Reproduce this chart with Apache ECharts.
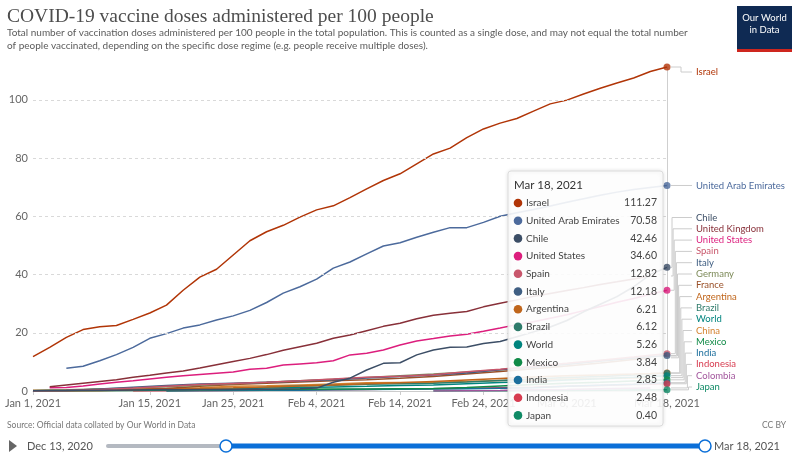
<!DOCTYPE html>
<html>
<head>
<meta charset="utf-8">
<script src="https://cdn.jsdelivr.net/npm/echarts@6/dist/echarts.min.js"></script>
<style>
html,body{margin:0;padding:0;background:#fff;}
#c{width:803px;height:460px;}
</style>
</head>
<body>
<div id="c"></div>
<script>
// ---------- DATA ----------
const startYear = 2021, dayCount = 77;           // Jan 1 .. Mar 18, 2021
const xTickDays = [0, 14, 24, 34, 44, 54, 64, 76];
const yTicks = [0, 20, 40, 60, 80, 100];
const daysFine = [0,2,4,6,8,10,12,14,16,18,20,22,24,26,28,30,32,34,36,38,40,42,44,46,48,50,52,54,56,58,60,62,64,66,68,70,72,74,76];
const daysCoarse = [0,4,8,12,16,20,24,28,32,36,40,44,48,52,56,60,64,68,72,74,76];

const israel = [11.8,15.0,18.4,21.1,22.1,22.5,24.6,26.8,29.5,34.6,39.1,41.8,46.7,51.6,54.7,56.9,59.7,62.2,63.6,66.4,69.4,72.3,74.6,78.0,81.4,83.4,87.0,90.0,92.0,93.6,96.1,98.6,99.9,102.0,104.0,105.8,107.5,109.7,111.27];
const uae = [null,null,7.8,8.5,10.4,12.5,15.0,18.1,19.7,21.6,22.7,24.4,25.8,27.7,30.4,33.6,35.8,38.4,42.2,44.3,47.1,49.8,50.9,52.8,54.5,56.1,56.1,57.9,60.0,61.2,62.3,63.5,64.8,66.0,67.2,68.3,69.2,69.9,70.58];
const chile = [0.1,0.15,0.2,0.3,0.3,0.3,0.35,0.4,0.4,0.45,0.5,0.5,0.55,0.6,0.6,0.7,0.8,1.0,3.0,4.4,7.2,9.5,9.7,12.4,14.1,15.0,15.1,16.3,17.0,18.6,20.3,22.0,24.2,27.2,29.8,32.4,35.8,40.0,42.46];
const uk = [null,1.5,2.1,2.7,3.3,3.9,4.7,5.4,6.2,6.9,7.9,9.0,10.1,11.2,12.5,14.0,15.2,16.4,18.1,19.2,20.7,22.2,23.3,24.8,26.0,26.7,27.3,28.9,30.1,31.3,32.5,33.5,34.5,35.5,36.6,37.5,38.5,39.5,null];
const us = [null,1.1,1.2,1.7,2.4,3.0,3.5,4.1,4.7,5.2,5.7,6.1,6.5,7.5,7.8,8.9,9.3,9.7,10.4,12.4,13.0,14.1,15.8,17.2,18.0,18.9,19.5,20.5,21.6,22.8,23.8,25.0,26.2,27.6,29.0,30.5,31.8,33.2,34.60];

const spain = [0.1,0.2,0.5,1.0,1.6,2.2,2.6,3.0,3.5,4.1,4.7,5.1,5.6,6.6,7.5,8.5,9.5,10.6,11.7,12.3,12.82];
const italy = [0.0,0.2,0.7,1.3,1.9,2.4,2.7,3.0,3.4,3.9,4.5,5.0,5.5,6.2,7.3,8.2,9.2,10.3,11.3,11.8,12.18];
const germany = [0.2,0.4,0.7,1.0,1.5,2.0,2.5,3.0,3.5,4.0,4.6,5.2,5.8,6.5,7.3,8.3,9.3,10.4,11.3,12.0,null];
const france = [0.0,0.01,0.1,0.4,0.9,1.6,2.2,2.7,3.1,3.5,3.9,4.4,5.0,5.8,6.7,7.6,8.6,9.6,10.8,11.4,null];
const argentina = [0.2,0.3,0.5,0.6,0.8,0.9,1.1,1.4,1.7,2.1,2.5,2.8,3.3,3.8,4.3,4.8,5.2,5.5,5.8,6.0,6.21];
const brazil = [null,null,null,null,0.0,0.3,0.8,1.3,1.7,2.0,2.3,2.5,2.7,3.1,3.6,4.1,4.6,5.0,5.5,5.8,6.12];
const world = [0.12,0.2,0.3,0.4,0.5,0.65,0.8,1.0,1.2,1.4,1.6,1.85,2.1,2.5,2.9,3.3,3.8,4.2,4.7,5.0,5.26];
const china = [0.2,0.3,0.6,0.7,0.9,1.1,1.6,1.8,2.1,2.4,2.8,2.9,3.0,3.3,3.6,3.8,4.1,4.3,4.5,4.6,null];
const mexico = [0.03,0.05,0.07,0.2,0.35,0.45,0.5,0.55,0.6,0.65,0.7,0.8,0.9,1.2,1.7,2.2,2.7,3.0,3.4,3.6,3.84];
const india = [null,null,null,null,0.0,0.1,0.2,0.25,0.3,0.4,0.5,0.6,0.65,0.8,0.95,1.1,1.6,1.95,2.3,2.6,2.85];
const indonesia = [null,null,null,0.0,0.05,0.1,0.15,0.25,0.35,0.45,0.55,0.65,0.8,0.95,1.1,1.3,1.6,1.9,2.2,2.35,2.48];
const japan = [null,null,null,null,null,null,null,null,null,null,null,null,0.01,0.05,0.1,0.15,0.2,0.25,0.32,0.36,0.40];
const colombia = [null,null,null,null,null,null,null,null,null,null,null,null,0.0,0.1,0.2,0.4,0.55,0.75,0.95,1.05,null];

const countries = [
  ['Israel', israel, daysFine],
  ['United Arab Emirates', uae, daysFine],
  ['Chile', chile, daysFine],
  ['United Kingdom', uk, daysFine],
  ['United States', us, daysFine],
  ['Spain', spain, daysCoarse],
  ['Italy', italy, daysCoarse],
  ['Germany', germany, daysCoarse],
  ['France', france, daysCoarse],
  ['Argentina', argentina, daysCoarse],
  ['Brazil', brazil, daysCoarse],
  ['World', world, daysCoarse],
  ['China', china, daysCoarse],
  ['Mexico', mexico, daysCoarse],
  ['India', india, daysCoarse],
  ['Indonesia', indonesia, daysCoarse],
  ['Colombia', colombia, daysCoarse],
  ['Japan', japan, daysCoarse]
];

// ---------- STYLES ----------
const colors = {
  'Israel':'#B13507','United Arab Emirates':'#4C6A9C','Chile':'#3C4E66','United Kingdom':'#883039',
  'United States':'#DC1E7D','Spain':'#C8566B','Italy':'#3F5E82','Germany':'#7E8B5A','France':'#9A5129',
  'Argentina':'#C0661C','Brazil':'#2F7B6B','World':'#00847E','China':'#D4822F','Mexico':'#108A47',
  'India':'#1B6E9C','Indonesia':'#D73C50','Colombia':'#A2559C','Japan':'#0F8A65'
};
const SANS = 'Lato, "Noto Sans", sans-serif';

// categories
const MONTHS = ['Jan','Feb','Mar','Apr','May','Jun','Jul','Aug','Sep','Oct','Nov','Dec'];
const dates = [];
for (let i = 0; i < dayCount; i++) {
  const d = new Date(Date.UTC(startYear, 0, 1 + i));
  dates.push(MONTHS[d.getUTCMonth()] + ' ' + d.getUTCDate() + ', ' + d.getUTCFullYear());
}
const lastIdx = dayCount - 1;

const lastPoint = (vals, days) => {
  for (let i = vals.length - 1; i >= 0; i--) if (vals[i] != null) return [days[i], vals[i]];
  return null;
};

const series = [];
// gridlines & hover line
series.push({
  type: 'line', data: [], silent: true,
  markLine: {
    silent: true, symbol: 'none', label: {show: false}, animation: false,
    data: yTicks.filter(v => v > 0).map(v => ({yAxis: v, lineStyle: {color: '#d9d9d9', type: [3, 3], width: 1}}))
      .concat([{xAxis: dates[lastIdx], lineStyle: {color: '#cfcfcf', type: 'solid', width: 1}}])
  }
});
countries.slice().reverse().forEach(([name, vals, days]) => {
  series.push({
    name, type: 'line', symbol: 'none', animation: false,
    lineStyle: {width: 1.5, color: colors[name]},
    itemStyle: {color: colors[name]},
    data: days.map((d, i) => vals[i] == null ? null : [d, vals[i]]).filter(p => p)
  });
});
// end markers for countries with a value on the last day
const endPoints = countries.filter(([n, v, d]) => lastPoint(v, d)[0] === lastIdx);
series.push({
  type: 'scatter', symbolSize: 7, animation: false, z: 5,
  data: endPoints.map(([n, v, d]) => ({value: lastPoint(v, d), itemStyle: {color: colors[n]}}))
});

const chart = echarts.init(document.getElementById('c'), null, {renderer: 'canvas'});
chart.setOption({
  animation: false,
  grid: {left: 33, right: 136, top: 67, bottom: 69},
  xAxis: {
    type: 'category', data: dates, boundaryGap: false,
    axisLine: {show: true, lineStyle: {color: '#cccccc'}},
    axisTick: {show: true, length: 4, interval: i => xTickDays.includes(i), lineStyle: {color: '#cccccc'}},
    axisLabel: {interval: i => xTickDays.includes(i), color: '#666', fontFamily: SANS, fontSize: 11, margin: 7},
    splitLine: {show: false}
  },
  yAxis: {
    type: 'value', min: 0, max: v => v.max, interval: 20,
    axisLine: {show: false}, axisTick: {show: false},
    splitLine: {show: false},
    axisLabel: {color: '#666', fontFamily: SANS, fontSize: 11, margin: 5,
      formatter: v => (yTicks.includes(v) ? String(v) : '')}
  },
  series
});

// ---------- end labels with leader lines ----------
const labelItems = countries.map(([n, v, d]) => {
  const lp = lastPoint(v, d);
  return {name: n, val: lp[1], yData: chart.convertToPixel({yAxisIndex: 0}, lp[1])};
}).sort((a, b) => b.val - a.val);
const spacing = 11.3, maxY = 387, minY = 72;
for (let i = labelItems.length - 1; i >= 0; i--) {
  const lim = i === labelItems.length - 1 ? maxY : labelItems[i + 1].y - spacing;
  labelItems[i].y = Math.min(labelItems[i].yData, lim);
}
labelItems[0].y = Math.max(labelItems[0].y, minY);
for (let i = 1; i < labelItems.length; i++) labelItems[i].y = Math.max(labelItems[i].y, labelItems[i - 1].y + spacing);

const xEnd = chart.convertToPixel({xAxisIndex: 0}, lastIdx);
const graphics = [];
let k = 0;
labelItems.forEach((it, i) => {
  const moved = Math.abs(it.y - it.yData) > 0.5;
  const bend = i < 2 ? xEnd + 14 : xEnd + 5 + (k++) * 1.1;
  const pts = moved
    ? [[xEnd + 4, it.yData], [bend, it.yData], [bend, it.y], [xEnd + 25, it.y]]
    : [[xEnd + 4, it.yData], [xEnd + 25, it.y]];
  graphics.push({type: 'polyline', silent: true, z: 1, shape: {points: pts}, style: {stroke: '#cccccc', lineWidth: 1, fill: null}});
  graphics.push({type: 'text', silent: true, z: 10, x: xEnd + 29, y: it.y,
    style: {text: it.name, fill: colors[it.name], fontFamily: SANS, fontSize: 9.5, verticalAlign: 'middle', align: 'left'}});
});

// ---------- tooltip box ----------
const tipRows = endPoints.map(([n, v, d]) => ({name: n, val: lastPoint(v, d)[1]})).sort((a, b) => b.val - a.val);
const tipX = 508, tipY = 171, tipW = 155, rowH = 17.7, TZ = 200;
graphics.push({type: 'rect', z: TZ, silent: true, shape: {x: tipX, y: tipY, width: tipW, height: 255, r: 3},
  style: {fill: 'rgba(255,255,255,0.9)', stroke: '#dcdcdc', lineWidth: 1, shadowBlur: 4, shadowColor: 'rgba(0,0,0,0.12)'}});
graphics.push({type: 'text', z: TZ + 1, silent: true, x: tipX + 6, y: tipY + 14,
  style: {text: dates[lastIdx], fill: '#333', fontFamily: SANS, fontSize: 11.5, verticalAlign: 'middle'}});
tipRows.forEach((r, i) => {
  const y = tipY + 32 + i * rowH;
  graphics.push({type: 'circle', z: TZ + 1, silent: true, shape: {cx: tipX + 10, cy: y, r: 4.3}, style: {fill: colors[r.name]}});
  graphics.push({type: 'text', z: TZ + 1, silent: true, x: tipX + 18, y, style: {text: r.name, fill: '#444', fontFamily: SANS, fontSize: 10, verticalAlign: 'middle'}});
  graphics.push({type: 'text', z: TZ + 1, silent: true, x: tipX + tipW - 6, y, style: {text: r.val.toFixed(2), fill: '#444', fontFamily: SANS, fontSize: 10.5, verticalAlign: 'middle', align: 'right'}});
});

// ---------- header, footer, logo, timeline ----------
graphics.push(
  {type: 'text', z: 10, x: 7, y: 17, style: {text: 'COVID-19 vaccine doses administered per 100 people', fill: '#4d4d4d', fontFamily: '"Liberation Serif", "DejaVu Serif", serif', fontSize: 19.5, verticalAlign: 'middle'}},
  {type: 'text', z: 10, x: 7, y: 33, style: {text: 'Total number of vaccination doses administered per 100 people in the total population. This is counted as a single dose, and may not equal the total number', fill: '#5b5b5b', fontFamily: SANS, fontSize: 10, verticalAlign: 'middle'}},
  {type: 'text', z: 10, x: 7, y: 46, style: {text: 'of people vaccinated, depending on the specific dose regime (e.g. people receive multiple doses).', fill: '#5b5b5b', fontFamily: SANS, fontSize: 10, verticalAlign: 'middle'}},
  {type: 'rect', z: 10, shape: {x: 737, y: 6, width: 55, height: 46}, style: {fill: '#0f2a53'}},
  {type: 'rect', z: 11, shape: {x: 737, y: 49, width: 55, height: 3}, style: {fill: '#ce261e'}},
  {type: 'text', z: 12, x: 764.5, y: 18, style: {text: 'Our World', fill: '#fff', fontFamily: SANS, fontSize: 9.5, align: 'center', verticalAlign: 'middle'}},
  {type: 'text', z: 12, x: 764.5, y: 30, style: {text: 'in Data', fill: '#fff', fontFamily: SANS, fontSize: 9.5, align: 'center', verticalAlign: 'middle'}},
  {type: 'text', z: 10, x: 7, y: 425, style: {text: 'Source: Official data collated by Our World in Data', fill: '#777', fontFamily: SANS, fontSize: 8.5, verticalAlign: 'middle'}},
  {type: 'text', z: 10, x: 786, y: 425, style: {text: 'CC BY', fill: '#777', fontFamily: SANS, fontSize: 8.5, align: 'right', verticalAlign: 'middle'}},
  {type: 'polygon', z: 10, shape: {points: [[9, 440], [17, 446], [9, 452]]}, style: {fill: '#666'}},
  {type: 'text', z: 10, x: 27, y: 446, style: {text: 'Dec 13, 2020', fill: '#555', fontFamily: SANS, fontSize: 11, verticalAlign: 'middle'}},
  {type: 'rect', z: 10, shape: {x: 106, y: 444, width: 122, height: 4, r: 2}, style: {fill: '#b4b9c1'}},
  {type: 'rect', z: 11, shape: {x: 226, y: 443.5, width: 479, height: 5}, style: {fill: '#0b6fd8'}},
  {type: 'circle', z: 12, shape: {cx: 226, cy: 446, r: 6}, style: {fill: '#fff', stroke: '#0b6fd8', lineWidth: 1.5}},
  {type: 'circle', z: 12, shape: {cx: 705, cy: 446, r: 6}, style: {fill: '#fff', stroke: '#0b6fd8', lineWidth: 1.5}},
  {type: 'text', z: 10, x: 714, y: 446, style: {text: 'Mar 18, 2021', fill: '#555', fontFamily: SANS, fontSize: 11, verticalAlign: 'middle'}}
);
chart.setOption({graphic: graphics});
</script>
</body>
</html>
